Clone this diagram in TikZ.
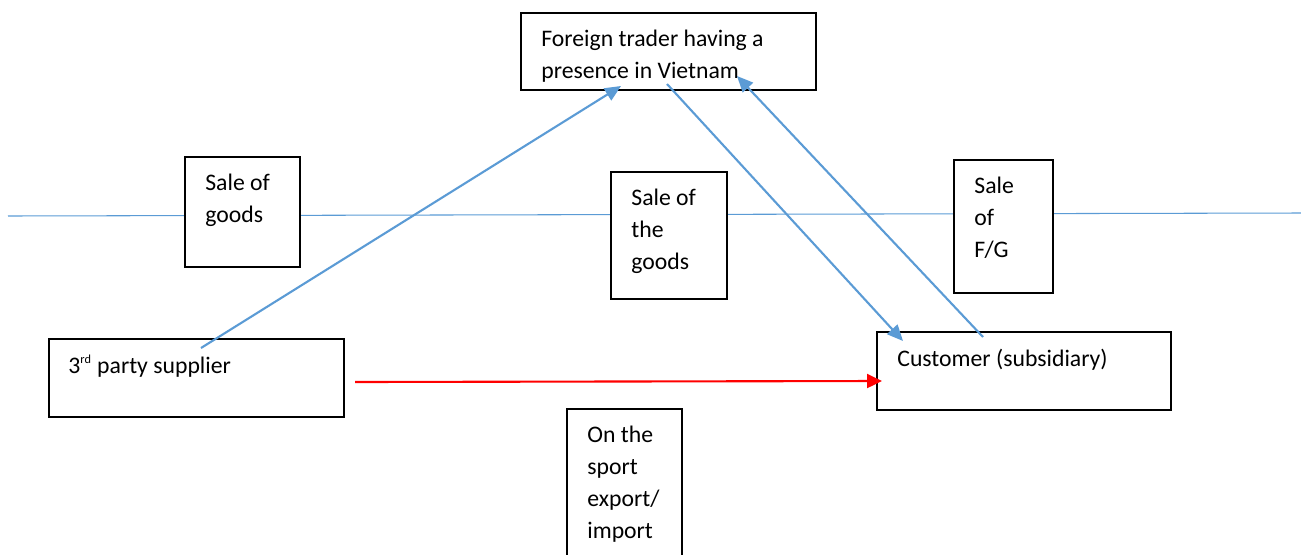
\documentclass[tikz,border=0pt]{standalone}
\usepackage{fontspec}
\setmainfont{Carlito}
\usepackage{tikz}
\usetikzlibrary{arrows.meta,positioning}
\definecolor{flowblue}{HTML}{5B9BD5}
\definecolor{flowred}{HTML}{FF0000}
\tikzset{
  box/.style={draw=black, line width=1pt, fill=white, anchor=north west, inner sep=0pt},
  txt/.style={anchor=north west, inner sep=0pt, align=left, font=\fontsize{13.5}{18.2}\selectfont},
  divider/.style={draw=flowblue, line width=0.6pt},
  bluearrow/.style={-{Triangle[length=3.2mm, width=2.8mm]}, line width=1.2pt, draw=flowblue},
  redarrow/.style={-{Triangle[length=3mm, width=2.8mm]}, line width=1.2pt, draw=flowred}
}

\begin{document}
\begin{tikzpicture}[node distance=0.36cm and 0.42cm]
  \useasboundingbox (0,0) rectangle (26.02,-11.08);
  % trade line
  \coordinate (lineL) at (0.16,-4.32);
  \coordinate (lineR) at (26.02,-4.26);
  \draw[divider] (lineL) -- (lineR);

  % boxes
  \node[box, minimum width=5.90cm, minimum height=1.54cm] (foreign) at (10.40,-0.24) {};
  \node[box, minimum width=2.30cm, minimum height=2.20cm] (goods) at (3.68,-3.12) {};
  \node[box, minimum width=2.32cm, minimum height=2.54cm] (thegoods) at (12.20,-3.42) {};
  \node[box, minimum width=1.98cm, minimum height=2.66cm] (fg) at (19.06,-3.18) {};
  \node[box, minimum width=5.90cm, minimum height=1.56cm] (supplier) at (0.96,-6.76) {};
  \node[box, minimum width=5.88cm, minimum height=1.56cm] (customer) at (17.52,-6.62) {};
  \node[box, minimum width=2.30cm, minimum height=3.30cm] (spot) at (11.32,-8.16) {};

  % texts
  \node[txt, below right=of foreign.north west] (foreigntxt) {Foreign trader having a\\presence in Vietnam};
  \node[txt, below right=of goods.north west] (goodstxt) {Sale of\\goods};
  \node[txt, below right=of thegoods.north west] (thegoodstxt) {Sale of\\the\\goods};
  \node[txt, below right=of fg.north west] (fgtxt) {Sale\\of\\F/G};
  \node[txt, below right=0.34cm and 0.40cm of supplier.north west] (suppliertxt) {3\textsuperscript{\scriptsize rd} party supplier};
  \node[txt, below right=of customer.north west] (customertxt) {Customer (subsidiary)};
  \node[txt, below right=of spot.north west] (spottxt) {On the\\sport\\export/\\import};

  % flows
  \draw[bluearrow] ([shift={(3.06,-0.20)}]supplier.north west) -- ([shift={(2.02,-1.48)}]foreign.north west);
  \draw[bluearrow] ([shift={(2.94,-1.44)}]foreign.north west) -- ([shift={(0.54,-0.20)}]customer.north west);
  \draw[bluearrow] ([shift={(2.14,-0.12)}]customer.north west) -- ([shift={(4.34,-1.28)}]foreign.north west);
  \draw[redarrow] ([shift={(6.14,-0.88)}]supplier.north west) -- ([shift={(0.12,-1.00)}]customer.north west);
\end{tikzpicture}
\end{document}
